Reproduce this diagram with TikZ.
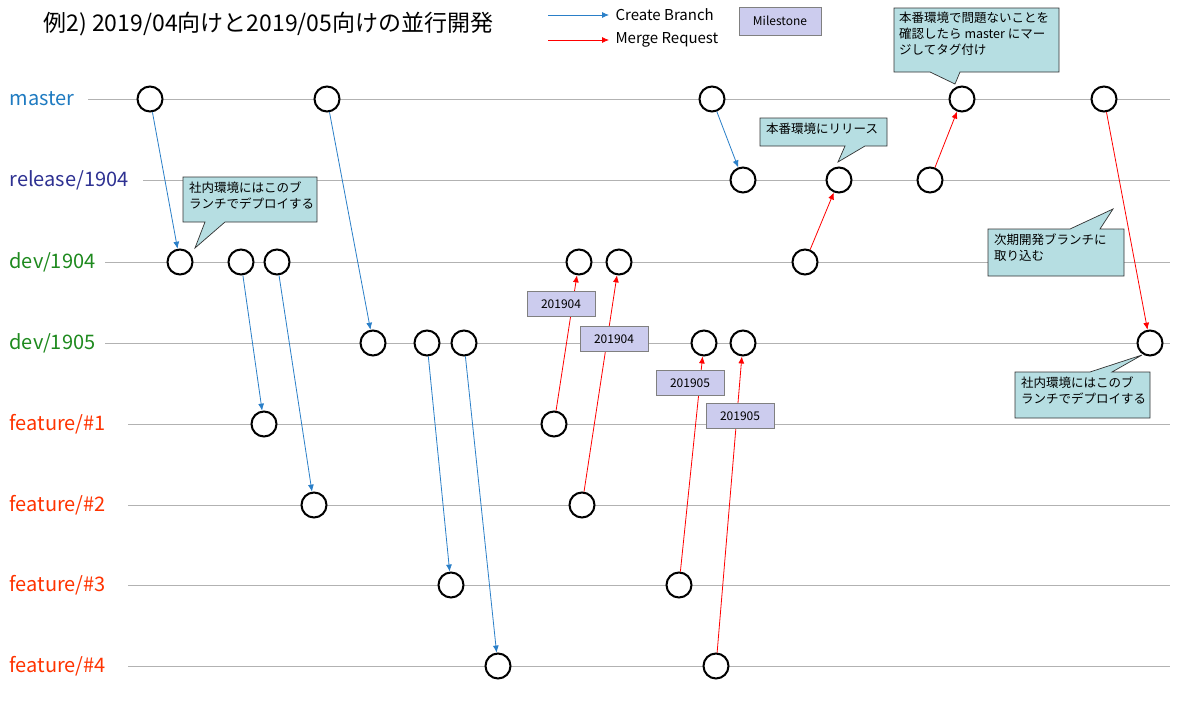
\documentclass[tikz,border=0pt]{standalone}
\usepackage{fontspec}
\setmainfont{Noto Sans CJK JP}
\usetikzlibrary{positioning}
\usetikzlibrary{arrows.meta}
\definecolor{cmaster}{HTML}{1F7BC1}
\definecolor{crelease}{HTML}{2E3192}
\definecolor{cdev}{HTML}{1E8A1E}
\definecolor{cfeat}{HTML}{FF3300}
\definecolor{cblue}{HTML}{2A7FC8}
\definecolor{cnote}{HTML}{B6DEE2}
\definecolor{cmile}{HTML}{CCCCEE}
\tikzset{
  commit/.style={circle,draw=black,line width=2pt,fill=white,minimum size=25pt,inner sep=0pt},
  lane/.style={draw=gray!60,line width=0.8pt},
  lanelabel/.style={anchor=west,font=\fontsize{20}{20}\selectfont},
  branch/.style={draw=cblue,line width=0.8pt,-{Latex[length=7pt,width=6pt]}},
  merge/.style={draw=red,line width=0.8pt,-{Latex[length=7pt,width=6pt]}},
  mile/.style={draw=gray,fill=cmile,font=\fontsize{12}{12}\selectfont,minimum width=68pt,minimum height=25pt,inner sep=0pt},
  note/.style={draw=black!80,fill=cnote,line width=0.7pt},
  notetext/.style={anchor=north west,align=left,font=\fontsize{12.5}{16}\selectfont,inner sep=0pt}
}
\begin{document}
\begin{tikzpicture}[x=1pt,y=-1pt]
	\useasboundingbox[fill=white] (0,0) rectangle (1200,712);
	%% title and legend
	\node[anchor=west,font=\fontsize{23}{23}\selectfont] (title) at (40,24) {例2) 2019/04向けと2019/05向けの並行開発};
	\coordinate (lb1) at (548,15); \coordinate (lb2) at (609,15);
	\coordinate (lm1) at (548,40); \coordinate (lm2) at (609,40);
	\draw[branch] (lb1) -- (lb2);
	\draw[merge] (lm1) -- (lm2);
	\node[anchor=west,font=\fontsize{15}{15}\selectfont] (lbt) at (612,15) {Create Branch};
	\node[anchor=west,font=\fontsize{15}{15}\selectfont] (lmt) at (612,40) {Merge Request};
	\node[mile,minimum width=82pt,minimum height=28pt] (lmile) at (780,21) {Milestone};
	%% lanes
	\foreach \name/\txt/\col/\y/\xs in {master/master/cmaster/99/88, release/release\slash 1904/crelease/180/143,
	  dA/dev\slash 1904/cdev/262/105, dB/dev\slash 1905/cdev/343/105, fA/feature\slash \#1/cfeat/424/128,
	  fB/feature\slash \#2/cfeat/505/128, fC/feature\slash \#3/cfeat/585/128, fD/feature\slash \#4/cfeat/666/128}{
		\node[lanelabel,text=\col] (l\name) at (6,\y) {\txt};
		\draw[lane] (\xs,\y) -- (1170,\y);
	}
	%% commits
	\foreach \x/\i in {150/1,327/2,712/3,962/4,1104/5} \node[commit] (m\i) at (\x,99) {};
	\foreach \x/\i in {743/1,839/2,930/3} \node[commit] (r\i) at (\x,180) {};
	\foreach \x/\i in {180/1,241/2,277/3,579/4,619/5,805/6} \node[commit] (a\i) at (\x,262) {};
	\foreach \x/\i in {373/1,427/2,464/3,704/4,743/5,1150/6} \node[commit] (b\i) at (\x,343) {};
	\node[commit] (f1a) at (264,424) {}; \node[commit] (f1b) at (554,424) {};
	\node[commit] (f2a) at (314,505) {}; \node[commit] (f2b) at (582,505) {};
	\node[commit] (f3a) at (451,585) {}; \node[commit] (f3b) at (679,585) {};
	\node[commit] (f4a) at (498,666) {}; \node[commit] (f4b) at (716,666) {};
	%% create branch
	\draw[branch] (m1) -- (a1);
	\draw[branch] (a2) -- (f1a);
	\draw[branch] (a3) -- (f2a);
	\draw[branch] (m2) -- (b1);
	\draw[branch] (b2) -- (f3a);
	\draw[branch] (b3) -- (f4a);
	\draw[branch] (m3) -- (r1);
	%% merge request
	\draw[merge] (f1b) -- (a4);
	\draw[merge] (f2b) -- (a5);
	\draw[merge] (f3b) -- (b4);
	\draw[merge] (f4b) -- (b5);
	\draw[merge] (a6) -- (r2);
	\draw[merge] (r3) -- (m4);
	\draw[merge] (m5) -- (b6);
	%% milestones
	\node[mile] (ms1) at (561,304) {201904};
	\node[mile] (ms2) at (614,339) {201904};
	\node[mile] (ms3) at (690,383) {201905};
	\node[mile] (ms4) at (740,416) {201905};
	%% callouts
	\draw[note] (183,177) -- (317,177) -- (317,222) -- (225,222) -- (195,248) -- (205,222) -- (183,222) -- cycle;
	\node[notetext] (n1) at (189,182) {社内環境にはこのブ\\ランチでデプロイする};
	\draw[note] (760,118) -- (887,118) -- (887,146) -- (865,146) -- (838,162) -- (845,146) -- (760,146) -- cycle;
	\node[notetext] (n2) at (766,123) {本番環境にリリース};
	\draw[note] (894,8) -- (1059,8) -- (1059,72) -- (960,72) -- (955,84) -- (930,72) -- (894,72) -- cycle;
	\node[notetext] (n3) at (899,12) {本番環境で問題ないことを\\確認したら master にマー\\ジしてタグ付け};
	\draw[note] (988,229) -- (1070,229) -- (1113,209) -- (1100,229) -- (1124,229) -- (1124,276) -- (988,276) -- cycle;
	\node[notetext] (n4) at (994,234) {次期開発ブランチに\\取り込む};
	\draw[note] (1015,372) -- (1090,372) -- (1142,355) -- (1112,372) -- (1150,372) -- (1150,418) -- (1015,418) -- cycle;
	\node[notetext] (n5) at (1021,377) {社内環境にはこのブ\\ランチでデプロイする};
\end{tikzpicture}
\end{document}
